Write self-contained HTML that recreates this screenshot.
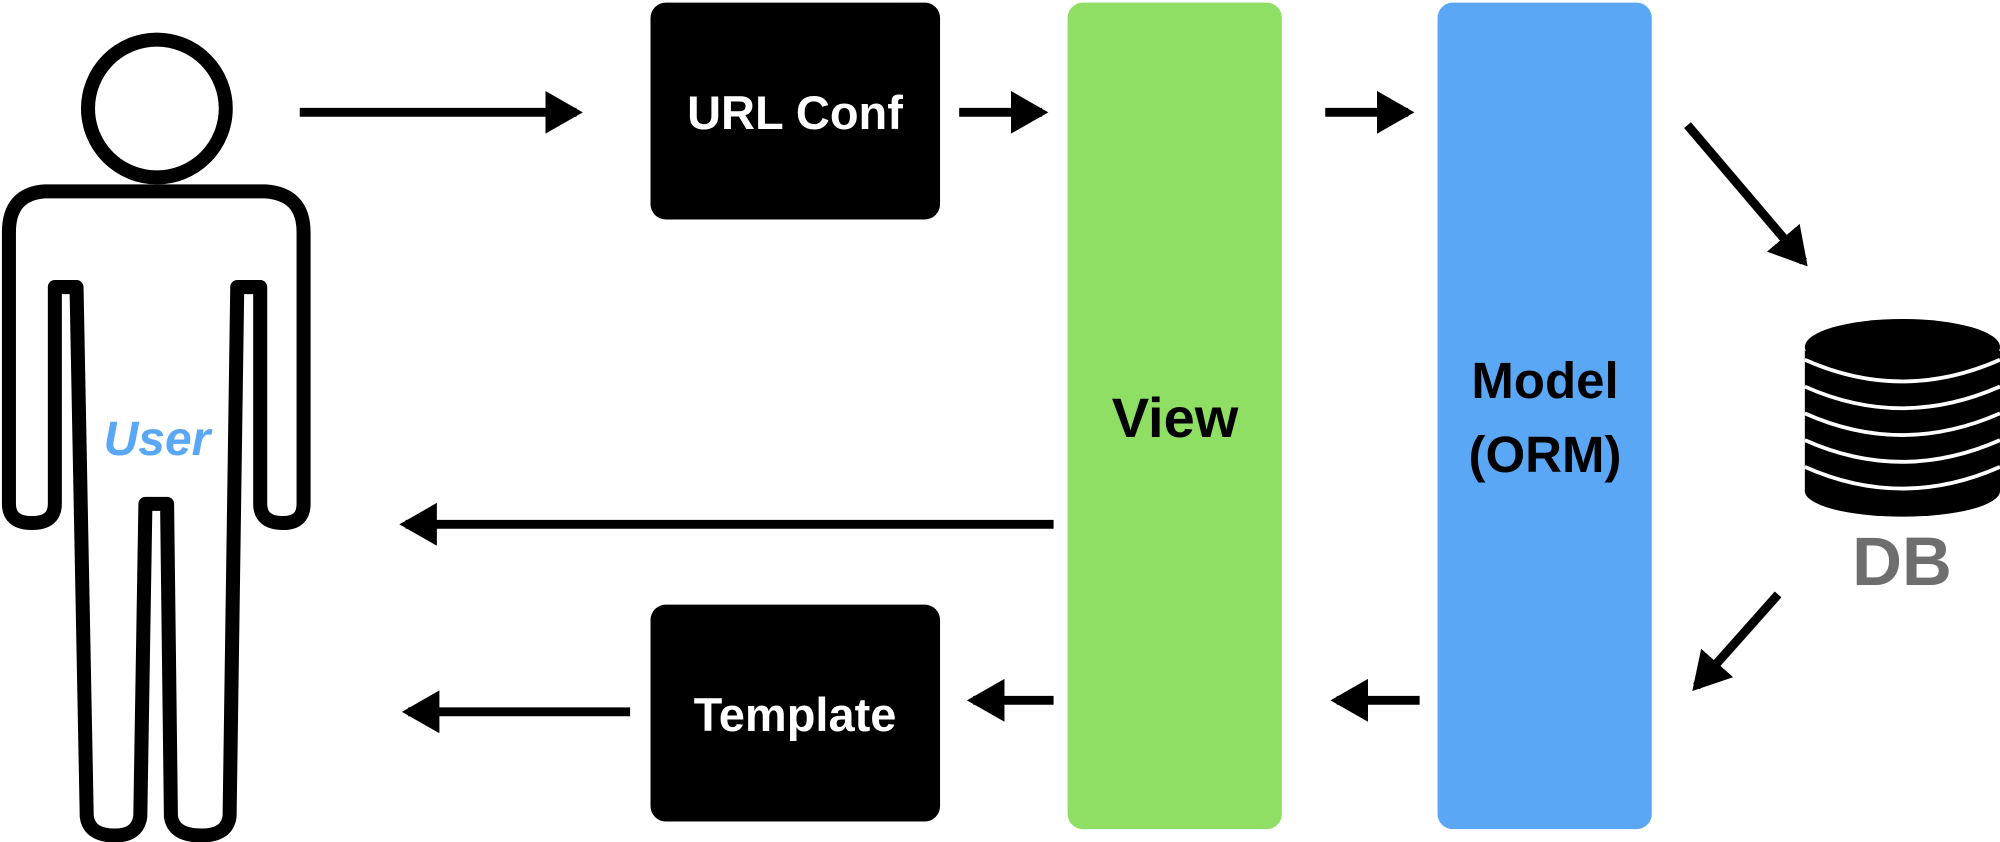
<!DOCTYPE html>
<html><head><style>html,body{margin:0;padding:0;background:#fff}svg{display:block;position:absolute;left:0;top:0}</style></head>
<body>
<svg width="2000" height="842" viewBox="0 0 1568 660" xmlns="http://www.w3.org/2000/svg">
<defs>
<marker id="ah" markerWidth="5" markerHeight="5" refX="3.5" refY="2.4" orient="auto" markerUnits="strokeWidth">
<path d="M0,0 L4.2,2.4 L0,4.8 Z" fill="#000"/>
</marker>
</defs>
<rect x="510" y="2" width="227" height="170" rx="12" fill="#000"/>
<rect x="510" y="474" width="227" height="170" rx="12" fill="#000"/>
<rect x="837" y="2" width="168" height="648" rx="12" fill="#8fdf65"/>
<rect x="1127" y="2" width="168" height="648" rx="12" fill="#5aa7f5"/>
<g>
<rect x="1415" y="275" width="153" height="110" fill="#000"/>
<ellipse cx="1491.5" cy="385" rx="76.5" ry="20" fill="#000"/>
<ellipse cx="1491.5" cy="272" rx="76.5" ry="22" fill="#000"/>
<g fill="none" stroke="#fff" stroke-width="3">
<path d="M1415,282 Q1491,316 1568,282"/>
<path d="M1415,303 Q1491,337 1568,303"/>
<path d="M1415,324 Q1491,358 1568,324"/>
<path d="M1415,345 Q1491,379 1568,345"/>
<path d="M1415,366 Q1491,400 1568,366"/>
</g>
</g>
<g stroke="#000" stroke-width="7" fill="none" marker-end="url(#ah)" stroke-linecap="butt">
<line x1="235" y1="88" x2="452" y2="88"/>
<line x1="752" y1="88" x2="817" y2="88"/>
<line x1="1039" y1="88" x2="1104" y2="88"/>
<line x1="1323" y1="98" x2="1414" y2="205"/>
<line x1="826" y1="411" x2="318" y2="411"/>
<line x1="1394" y1="466" x2="1330" y2="538"/>
<line x1="1113" y1="549" x2="1048" y2="549"/>
<line x1="826" y1="549" x2="763" y2="549"/>
<line x1="494" y1="558" x2="320" y2="558"/>
</g>
<g fill="none" stroke="#000" stroke-width="11" stroke-linejoin="round">
<circle cx="123" cy="85" r="54"/>
<path d="M35,150 L208,150 Q238,152 238,182 L238,395 Q238,410 222,410 Q204,410 204,395 L204,225 L186,225 L180,640 Q178,655 158,655 Q136,655 134,640 L131,395 L114,395 L110,640 Q108,655 90,655 Q70,655 68,640 L60,225 L43,225 L43,395 Q43,410 25,410 Q7,410 7,395 L7,182 Q7,152 35,150 Z"/>
</g>
</svg>
<svg width="2000" height="842" xmlns="http://www.w3.org/2000/svg" font-family="Liberation Sans, Arial, sans-serif" font-weight="bold" text-anchor="middle">
<text x="795" y="129" font-size="47" fill="#fff">URL Conf</text>
<text x="795" y="731" font-size="47" fill="#fff">Template</text>
<text x="1175" y="437" font-size="56" fill="#000">View</text>
<text x="1545" y="398" font-size="51" fill="#000">Model</text>
<text x="1545" y="472" font-size="51" fill="#000">(ORM)</text>
<text x="1902" y="585" font-size="69" fill="#6e6e6e">DB</text>
<text x="157" y="455" font-size="48" font-style="italic" fill="#5aa7f5">User</text>
</svg>
</body></html>
